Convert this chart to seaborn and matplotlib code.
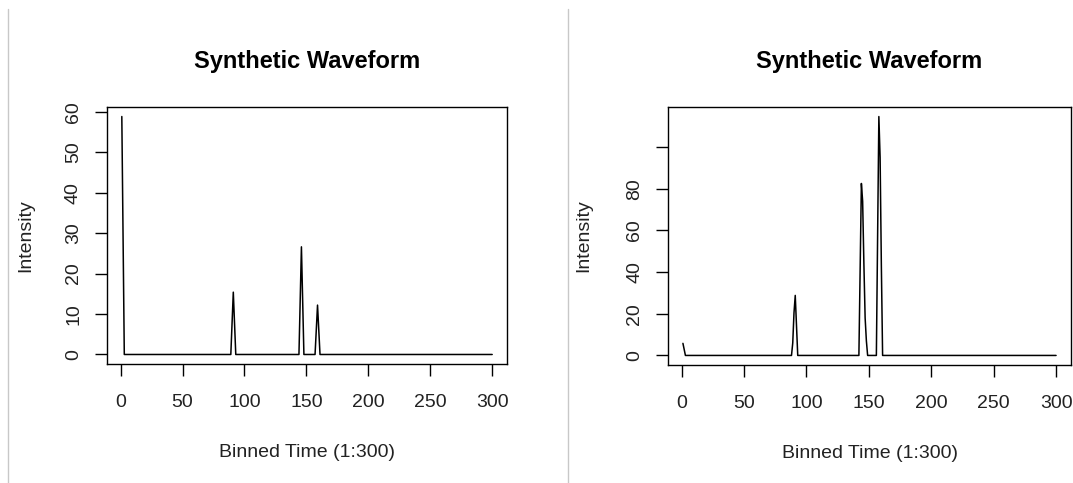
import numpy as np
import pandas as pd
import matplotlib
matplotlib.use("Agg")
import matplotlib.pyplot as plt
import seaborn as sns
from matplotlib.lines import Line2D

# ---- data ----
bins = np.arange(1, 301)

left_peak_bins = [1, 2, 90, 91, 92, 145, 146, 147, 158, 159, 160]
left_peak_vals = [58.8, 29.4, 7.7, 15.4, 7.7, 13.3, 26.6, 13.3, 6.1, 12.2, 6.1]

right_peak_bins = [1, 2, 89, 90, 91, 92, 143, 144, 145, 146, 147, 148,
                   157, 158, 159, 160]
right_peak_vals = [5.8, 2.9, 6.0, 20.5, 28.8, 14.4, 41.0, 82.5, 74.0, 44.0,
                   18.0, 7.0, 57.0, 114.6, 95.0, 43.0]

x_ticks = [0, 50, 100, 150, 200, 250, 300]
left_y_ticks = [0, 10, 20, 30, 40, 50, 60]
right_y_ticks = [0, 20, 40, 60, 80, 100]
right_y_labels = ["0", "20", "40", "60", "80", ""]

title = "Synthetic Waveform"
xlabel = "Binned Time (1:300)"
ylabel = "Intensity"


def series(peak_bins, peak_vals):
    s = pd.Series(0.0, index=bins)
    s.loc[peak_bins] = peak_vals
    return pd.DataFrame({"bin": bins, "intensity": s.values})


sns.set_style("white")
plt.rcParams["font.family"] = ["Liberation Sans", "DejaVu Sans"]

fig = plt.figure(figsize=(10.73, 4.83), dpi=100)
W, H = 1073, 483


def make_ax(x0, x1, y0, y1):
    return fig.add_axes([x0 / W, 1 - y1 / H, (x1 - x0) / W, (y1 - y0) / H])


ax1 = make_ax(107, 507, 107, 364)
ax2 = make_ax(668, 1071, 107, 365)

panels = [
    (ax1, series(left_peak_bins, left_peak_vals), left_y_ticks,
     [str(t) for t in left_y_ticks], 22),
    (ax2, series(right_peak_bins, right_peak_vals), right_y_ticks,
     right_y_labels, 24),
]

for ax, df, yt, ytl, ylpad in panels:
    sns.lineplot(data=df, x="bin", y="intensity", ax=ax, color="black",
                 lw=1.1, estimator=None)
    ymax = df["intensity"].max()
    ax.set_xlim(1 - 0.04 * 299, 300 + 0.04 * 299)
    ax.set_ylim(-0.04 * ymax, 1.04 * ymax)
    ax.set_xticks(x_ticks)
    ax.set_xticklabels([str(t) for t in x_ticks])
    ax.set_yticks(yt)
    ax.set_yticklabels(ytl, rotation=90, va="center")
    ax.tick_params(axis="both", direction="out", length=8.5, width=1,
                   color="black", labelsize=14, labelcolor="#222222",
                   bottom=True, left=True)
    ax.tick_params(axis="x", pad=13)
    ax.tick_params(axis="y", pad=9.5)
    for sp in ax.spines.values():
        sp.set_visible(True)
        sp.set_color("black")
        sp.set_linewidth(1)
    ax.set_title(title, fontsize=17, fontweight="bold", pad=28, color="black")
    ax.set_xlabel(xlabel, fontsize=14, labelpad=24, color="#222222")
    ax.set_ylabel(ylabel, fontsize=14, labelpad=ylpad, color="#222222")

# light grey separator lines
for xs in (8, 568):
    fig.add_artist(Line2D([xs / W, xs / W], [0, 1 - 9 / H],
                          transform=fig.transFigure, color="#c8c8c8", lw=1))

fig.savefig("out.png", dpi=100, facecolor="white")
